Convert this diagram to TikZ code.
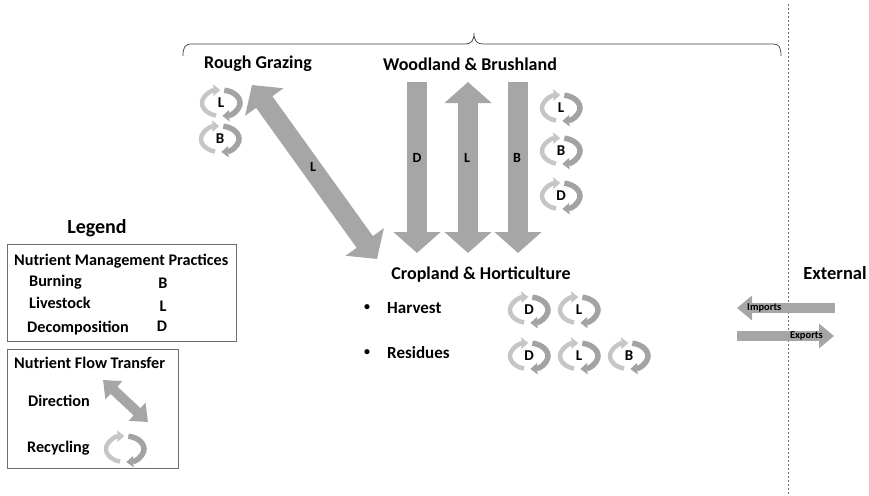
\documentclass[tikz,border=0pt]{standalone}
\usepackage{fontspec}
\setmainfont{Carlito}
\usetikzlibrary{arrows.meta}
\definecolor{flowgray}{HTML}{A6A6A6}
\definecolor{cycdark}{HTML}{A3A3A3}
\definecolor{cyclight}{HTML}{C6C6C6}
\definecolor{linegray}{HTML}{6E6E6E}
\tikzset{
  bighead/.tip={Triangle[width=46pt,length=21pt]},
  smallhead/.tip={Triangle[width=24pt,length=15pt]},
  cychead/.tip={Triangle[width=11pt,length=7pt]}
}
\begin{document}
\begin{tikzpicture}[x=1pt,y=-1pt,
  region/.style={inner sep=0pt, font=\fontsize{18}{20}\selectfont\bfseries},
  item/.style={inner sep=0pt, anchor=west, font=\fontsize{17}{19}\selectfont\bfseries},
  legtext/.style={inner sep=0pt, anchor=west, font=\fontsize{16.2}{18}\selectfont\bfseries},
  flowlbl/.style={inner sep=0pt, font=\fontsize{14}{16}\selectfont\bfseries},
  iconlbl/.style={inner sep=0pt, font=\fontsize{15}{17}\selectfont\bfseries},
  tradelbl/.style={inner sep=0pt, font=\fontsize{10.5}{12}\selectfont\bfseries},
  legbox/.style={draw=linegray, line width=0.9pt},
  bigflow/.style={draw=flowgray, line width=20pt},
  smallflow/.style={draw=flowgray, line width=10pt},
  pics/recyc/.style={code={
    % lighter arc: round the left side, tip at the top
    \draw[line width=4.5pt, cyclight, -cychead]
      (105:19 and 13) arc[start angle=105, end angle=268, x radius=19, y radius=13];
    % darker arc: round the right side, tip at the bottom
    \draw[line width=5.5pt, cycdark, -cychead]
      (-80:19 and 13) arc[start angle=-80, end angle=86, x radius=19, y radius=13];
    \node[iconlbl] at (0,0) {#1};
  }}
]
\useasboundingbox (0,0) rectangle (869,495);

% --- bracket over the land-use regions ---
\draw[line width=0.7pt, black!75]
  (183,56) .. controls (183,47) and (185,44) .. (192,44) -- (465,44)
  .. controls (471,44) and (474,41) .. (474,33)
  .. controls (474,41) and (477,44) .. (483,44) -- (773,44)
  .. controls (779,44) and (781,47) .. (781,56);

% --- farm boundary ---
\coordinate (bndTop) at (788,4);
\coordinate (bndBot) at (788,495);
\draw[linegray, line width=1pt, dash pattern=on 2pt off 2pt] (bndTop) -- (bndBot);

% --- regions ---
\node[region] (rough) at (258,64) {Rough Grazing};
\node[region] (wood) at (470,64) {Woodland \& Brushland};
\node[region] (crop) at (481,275) {Cropland \& Horticulture};
\node[region, font=\fontsize{18.5}{20}\selectfont\bfseries] (ext) at (835,273) {External};

% --- flows between regions ---
\coordinate (rgEnd) at (252,85);
\coordinate (chEnd) at (377,259);
\draw[bigflow, bighead-bighead] (rgEnd) -- (chEnd);
\node[flowlbl] (flowRG) at (313,167) {L};

\coordinate (dTop) at (417,82);  \coordinate (dBot) at (417,253);
\coordinate (lTop) at (468,82);  \coordinate (lBot) at (468,253);
\coordinate (bTop) at (518,82);  \coordinate (bBot) at (518,253);
\draw[bigflow, -bighead] (dTop) -- (dBot);
\draw[bigflow, bighead-bighead] (lTop) -- (lBot);
\draw[bigflow, -bighead] (bTop) -- (bBot);
\node[flowlbl] (flowD) at (417,158) {D};
\node[flowlbl] (flowL) at (467,158) {L};
\node[flowlbl] (flowB) at (517,158) {B};

% --- recycling within regions ---
\pic at (221,103) {recyc=L};
\pic at (220,139) {recyc=B};
\pic at (561,108) {recyc=L};
\pic at (561,151) {recyc=B};
\pic at (561,196) {recyc=D};

% --- cropland activities ---
\node[item, font=\fontsize{12}{14}\selectfont\bfseries] (bul1) at (364,308) {\textbullet};
\node[item] (harv) at (387,308) {Harvest};
\node[item, font=\fontsize{12}{14}\selectfont\bfseries] (bul2) at (364,353) {\textbullet};
\node[item] (resi) at (387,353) {Residues};
\pic at (529,310) {recyc=D};
\pic at (579,310) {recyc=L};
\pic at (529,356) {recyc=D};
\pic at (579,356) {recyc=L};
\pic at (629,356) {recyc=B};

% --- trade across the boundary ---
\coordinate (impIn) at (835,308);  \coordinate (impOut) at (737,308);
\coordinate (expIn) at (737,336);  \coordinate (expOut) at (834,336);
\draw[smallflow, -smallhead] (impIn) -- (impOut);
\draw[smallflow, -smallhead] (expIn) -- (expOut);
\node[tradelbl, anchor=west] (imp) at (747,308) {Imports};
\node[tradelbl, anchor=east] (exp) at (823,336) {Exports};

% --- legend ---
\node[inner sep=0pt, font=\fontsize{20}{22}\selectfont\bfseries] (legend) at (97,228) {Legend};
\draw[legbox] (7,244) rectangle (236,341);
\node[legtext] (nmp) at (14,261) {Nutrient Management Practices};
\node[legtext] (burn) at (29,282) {Burning};
\node[legtext] (live) at (29,303) {Livestock};
\node[legtext] (deco) at (27,328) {Decomposition};
\node[legtext, anchor=center] (keyB) at (163,283) {B};
\node[legtext, anchor=center] (keyL) at (163,306) {L};
\node[legtext, anchor=center] (keyD) at (162,326) {D};

\draw[legbox] (7,349) rectangle (178,468);
\node[legtext] (nft) at (14,363) {Nutrient Flow Transfer};
\node[legtext] (dir) at (28,401) {Direction};
\node[legtext] (rec) at (27,448) {Recycling};
\coordinate (keyA) at (103,380);
\coordinate (keyZ) at (148,422);
\draw[smallflow, smallhead-smallhead] (keyA) -- (keyZ);
\pic at (125,449) {recyc=};
\end{tikzpicture}
\end{document}
